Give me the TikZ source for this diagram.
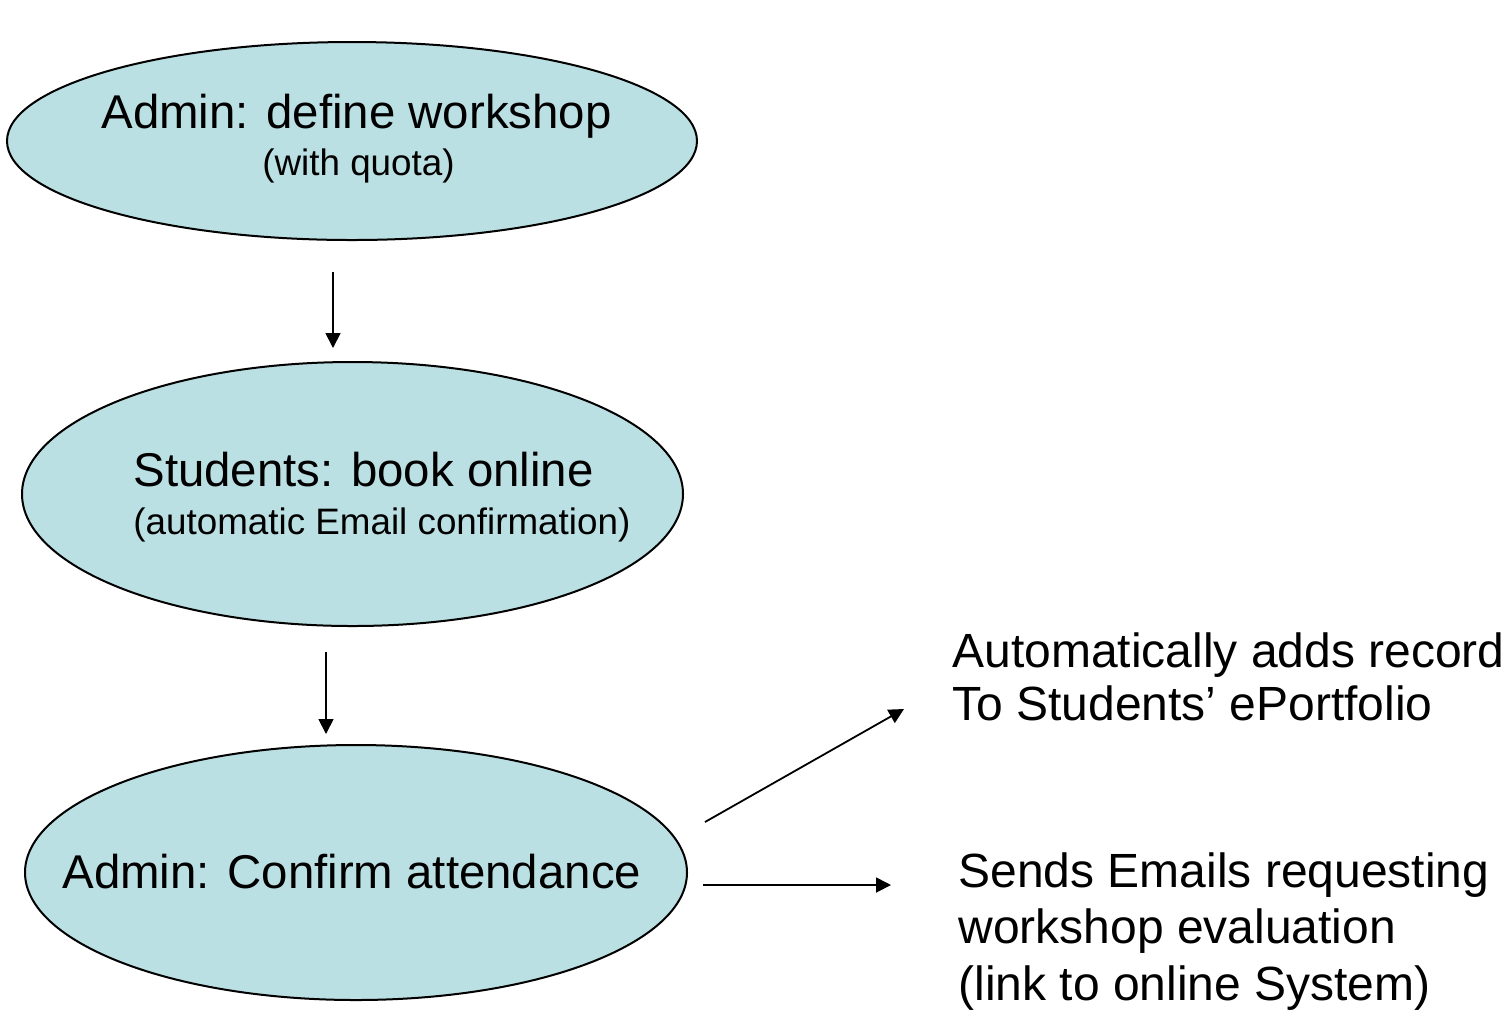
\documentclass[tikz,border=0pt]{standalone}
\usepackage{fontspec}
\setmainfont{Liberation Sans}
\usetikzlibrary{shapes.geometric,arrows.meta}
\definecolor{fillc}{HTML}{BBE0E3}
\tikzset{
  oval/.style={ellipse, draw=black, line width=1pt, fill=fillc, inner sep=0pt},
  bigtxt/.style={anchor=base west, inner sep=0pt, font=\fontsize{24}{28}\selectfont},
  intxt/.style={anchor=base west, inner sep=0pt, font=\fontsize{23.7}{28}\selectfont},
  smalltxt/.style={anchor=base west, inner sep=0pt, font=\fontsize{18.4}{21}\selectfont},
  arr/.style={-{Triangle[length=7.5pt,width=7.5pt]}, line width=0.9pt}
}
\begin{document}
\begin{tikzpicture}[x=0.5pt,y=-0.5pt]
\useasboundingbox (0,0) rectangle (1510,1009);
% ellipses
\node[oval, minimum width=345pt, minimum height=99pt] (e1) at (352,141) {};
\node[oval, minimum width=330.5pt, minimum height=132pt] (e2) at (352.5,494) {};
\node[oval, minimum width=331pt, minimum height=127.5pt] (e3) at (356,872.5) {};
% texts
\node[intxt] (t1) at (101,128) {Admin: define workshop};
\node[smalltxt] (t1b) at (262,175) {(with quota)};
\node[intxt] (t2) at (133,486) {Students: book online};
\node[smalltxt] (t2b) at (133,534) {(automatic Email confirmation)};
\node[intxt] (t3) at (62,888) {Admin: Confirm attendance};
\node[bigtxt] (r1) at (952,667) {Automatically adds record};
\node[bigtxt] (r1b) at (952,720) {To Students’ ePortfolio};
\node[bigtxt] (r2) at (958,887) {Sends Emails requesting};
\node[bigtxt] (r2b) at (958,943.5) {workshop evaluation};
\node[bigtxt] (r2c) at (958,1000) {(link to online System)};
% arrow end points
\coordinate (a1s) at (333,272);
\coordinate (a1e) at (333,348);
\coordinate (a2s) at (326,652);
\coordinate (a2e) at (326,734);
\coordinate (a3s) at (705,822);
\coordinate (a3e) at (904,709);
\coordinate (a4s) at (703,885);
\coordinate (a4e) at (891,885);
\draw[arr] (a1s) -- (a1e);
\draw[arr] (a2s) -- (a2e);
\draw[arr] (a3s) -- (a3e);
\draw[arr] (a4s) -- (a4e);
\end{tikzpicture}
\end{document}
